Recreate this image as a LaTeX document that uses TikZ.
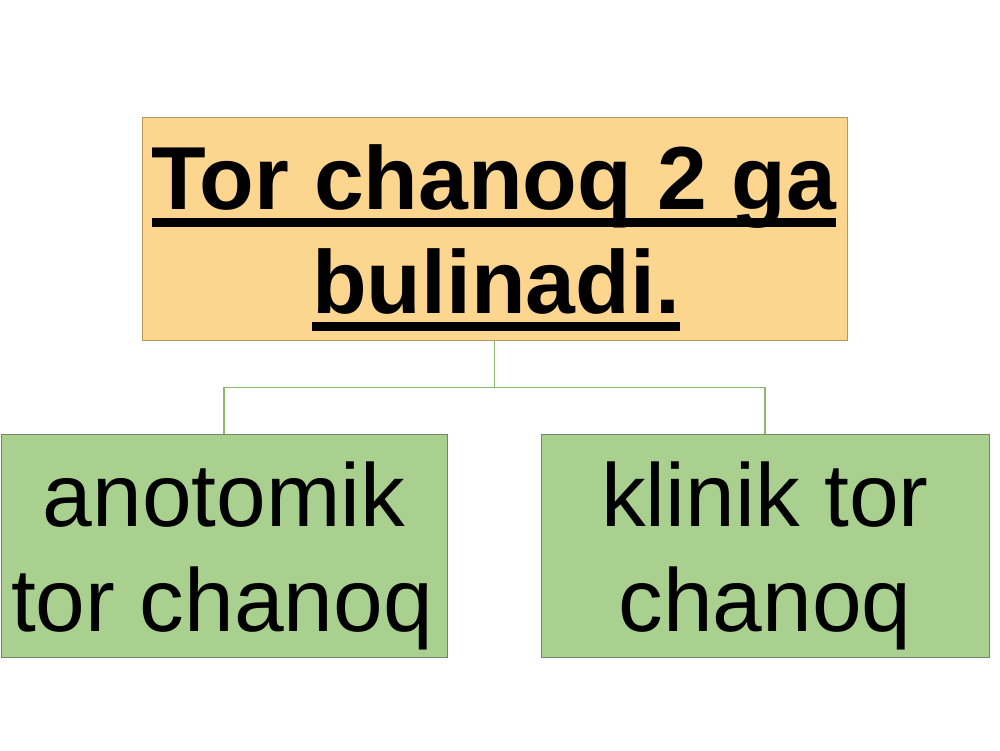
\documentclass[tikz,border=0pt]{standalone}
\usepackage{fontspec}
\setmainfont{Liberation Sans}
\definecolor{topfill}{HTML}{FCD68F}
\definecolor{topline}{HTML}{B8975A}
\definecolor{greenfill}{HTML}{A9D08E}
\definecolor{greenline}{HTML}{6E8A60}
\definecolor{linkcol}{HTML}{8CB86E}
\newcommand\myul[1]{\setbox0=\hbox{#1}\rlap{\vrule height -9pt depth 17.5pt width \wd0}\box0}
\tikzset{
  topbox/.style={draw=topline, line width=1pt, fill=topfill, minimum width=705pt, minimum height=223pt, inner sep=0pt},
  greenbox/.style={draw=greenline, line width=1pt, fill=greenfill, minimum height=223pt, inner sep=0pt},
  titletext/.style={anchor=base, inner sep=0pt, font=\fontsize{89.5}{104}\selectfont\bfseries},
  leaftext/.style={anchor=base, inner sep=0pt, font=\fontsize{89.3}{104}\selectfont},
  link/.style={draw=linkcol, line width=1.2pt}
}
\begin{document}
\begin{tikzpicture}[x=1pt,y=-1pt]
\useasboundingbox (0,0) rectangle (1000,750);
\fill[white] (0,0) rectangle (1000,750);
\node[topbox] (top) at (494.5,228.5) {};
\node[greenbox, minimum width=446pt] (left) at (224,545.5) {};
\node[greenbox, minimum width=448pt] (right) at (765,545.5) {};
\draw[link] (top.south) -- ++(0,47) coordinate (mid) -| (left.north);
\draw[link] (mid) -| (right.north);
\node[titletext] (t1) at (494,209) {\myul{Tor chanoq 2 ga}};
\node[titletext] (t2) at (496,313) {\myul{bulinadi.}};
\node[leaftext] (l1) at (224,526) {anotomik};
\node[leaftext] (l2) at (222,631) {tor chanoq};
\node[leaftext] (r1) at (765,526) {klinik tor};
\node[leaftext] (r2) at (765,631) {chanoq};
\end{tikzpicture}
\end{document}
